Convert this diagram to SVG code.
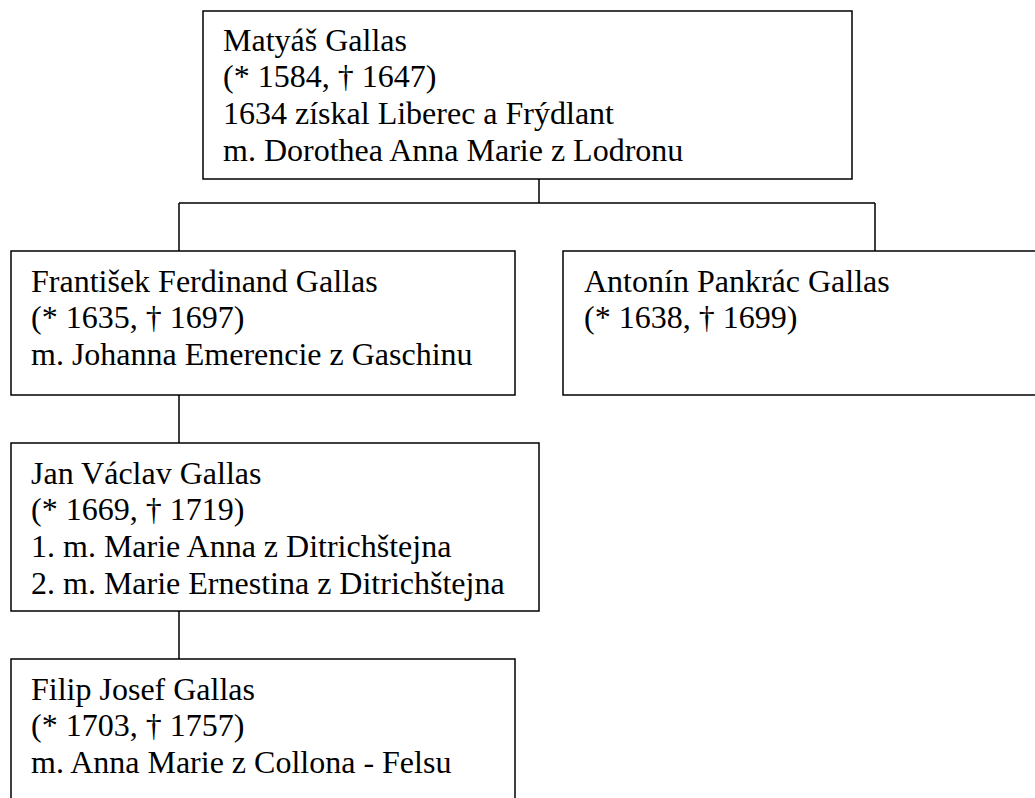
<svg xmlns="http://www.w3.org/2000/svg" width="1035" height="798" viewBox="0 0 1035 798">
<style>
.box{fill:#fff;stroke:#000;stroke-width:1.5}
.con{stroke:#000;stroke-width:1.5;fill:none}
text{font-family:"Liberation Serif","Times New Roman",serif;font-size:32px;fill:#000}
</style>
<rect x="0" y="0" width="1035" height="798" fill="#fff"/>
<g id="connectors">
<path class="con" d="M539 179V203M179 203H875M179 203V251M875 203V251M179 395V443M179 611V659"/>
</g>
<g id="matyas">
<rect class="box" x="203" y="11" width="649" height="168"/>
<text x="223" y="50.5">Matyáš Gallas</text>
<text x="223" y="87.3">(* 1584, † 1647)</text>
<text x="223" y="124.1">1634 získal Liberec a Frýdlant</text>
<text x="223" y="160.9">m. Dorothea Anna Marie z Lodronu</text>
</g>
<g id="frantisek">
<rect class="box" x="11" y="251" width="504" height="144"/>
<text x="31" y="291.5">František Ferdinand Gallas</text>
<text x="31" y="328.3">(* 1635, † 1697)</text>
<text x="31" y="365.1">m. Johanna Emerencie z Gaschinu</text>
</g>
<g id="antonin">
<rect class="box" x="563" y="251" width="490" height="144"/>
<text x="584" y="291.5">Antonín Pankrác Gallas</text>
<text x="584" y="328.3">(* 1638, † 1699)</text>
</g>
<g id="jan">
<rect class="box" x="11" y="443" width="528" height="168"/>
<text x="31" y="483.5">Jan Václav Gallas</text>
<text x="31" y="520.3">(* 1669, † 1719)</text>
<text x="31" y="557.1">1. m. Marie Anna z Ditrichštejna</text>
<text x="31" y="593.9">2. m. Marie Ernestina z Ditrichštejna</text>
</g>
<g id="filip">
<rect class="box" x="11" y="659" width="504" height="160"/>
<text x="31" y="699.5">Filip Josef Gallas</text>
<text x="31" y="736.3">(* 1703, † 1757)</text>
<text x="31" y="773.1">m. Anna Marie z Collona - Felsu</text>
</g>
</svg>
